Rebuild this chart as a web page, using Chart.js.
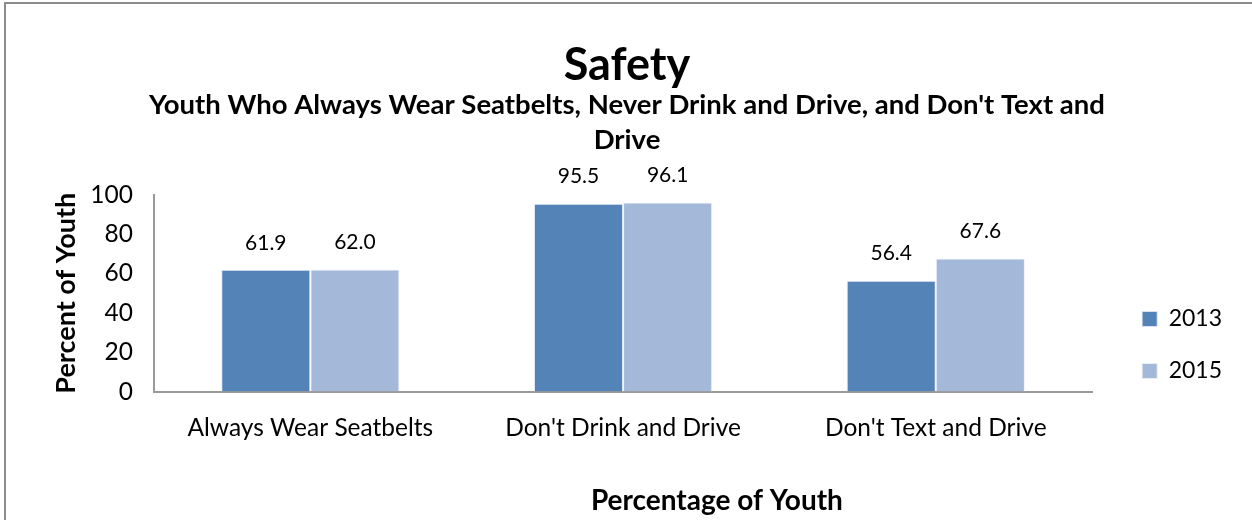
<!DOCTYPE html>
<html>
<head>
<meta charset="utf-8">
<script src="https://cdn.jsdelivr.net/npm/chart.js@4"></script>
<style>
  html, body { margin: 0; padding: 0; background: #fff; }
  #wrap { width: 1252px; height: 520px; }
</style>
</head>
<body>
<div id="wrap"><canvas id="c" width="1252" height="520"></canvas></div>
<script>
const categories = ["Always Wear Seatbelts", "Don't Drink and Drive", "Don't Text and Drive"];
const seriesNames = ["2013", "2015"];
const values2013 = [61.9, 95.5, 56.4];
const values2015 = [62.0, 96.1, 67.6];
const yTicks = [0, 20, 40, 60, 80, 100];

const FONT = "Lato, 'Open Sans', sans-serif";

const borderPlugin = {
  id: 'outerBorder',
  beforeDraw(chart) {
    const ctx = chart.ctx;
    ctx.save();
    ctx.fillStyle = '#fff';
    ctx.fillRect(0, 0, chart.width, chart.height);
    ctx.strokeStyle = '#8c8c8c';
    ctx.lineWidth = 2;
    ctx.strokeRect(5, 3, chart.width + 20, chart.height + 20);
    ctx.restore();
  }
};

const valueLabels = {
  id: 'valueLabels',
  afterDatasetsDraw(chart) {
    const ctx = chart.ctx;
    ctx.save();
    ctx.font = "21px " + FONT;
    ctx.fillStyle = '#000';
    ctx.textAlign = 'center';
    ctx.textBaseline = 'middle';
    chart.data.datasets.forEach((ds, i) => {
      chart.getDatasetMeta(i).data.forEach((bar, j) => {
        ctx.fillText(ds.data[j].toFixed(1), bar.x, bar.y - 27);
      });
    });
    ctx.restore();
  }
};

const xTitle = {
  id: 'xTitle',
  afterDraw(chart) {
    const a = chart.chartArea;
    const ctx = chart.ctx;
    ctx.save();
    ctx.font = "bold 28px " + FONT;
    ctx.fillStyle = '#000';
    ctx.textAlign = 'center';
    ctx.textBaseline = 'middle';
    ctx.fillText('Percentage of Youth', a.left + (a.right - a.left) * 0.6, a.bottom + 109);
    ctx.restore();
  }
};

new Chart(document.getElementById('c'), {
  type: 'bar',
  data: {
    labels: categories,
    datasets: [
      { label: seriesNames[0], data: values2013, backgroundColor: '#5383b7', borderColor: '#e8eef6', borderWidth: {top:1,left:1,right:1,bottom:0} },
      { label: seriesNames[1], data: values2015, backgroundColor: '#a4b8d9', borderColor: '#eef2f9', borderWidth: {top:1,left:1,right:1,bottom:0} }
    ]
  },
  options: {
    responsive: false,
    animation: false,
    devicePixelRatio: 1,
    layout: { padding: { left: 22, right: 20, top: 20, bottom: 55 } },
    datasets: { bar: { barPercentage: 1.0, categoryPercentage: 0.57 } },
    plugins: {
      title: {
        display: true,
        text: 'Safety',
        color: '#000',
        font: { family: FONT, size: 45, weight: 'bold', lineHeight: 1.0 },
        padding: { top: 22.5, bottom: 0 }
      },
      subtitle: {
        display: true,
        text: ["Youth Who Always Wear Seatbelts, Never Drink and Drive, and Don't Text and", "Drive"],
        color: '#000',
        font: { family: FONT, size: 27.5, weight: 'bold', lineHeight: 1.27 },
        padding: { top: 0, bottom: 37.5 }
      },
      legend: {
        position: 'right',
        fullSize: true,
        title: { display: true, text: ' ', font: { size: 10, lineHeight: 1.2 }, padding: { top: 193, bottom: 0 } },
        labels: {
          color: '#000',
          font: { family: FONT, size: 23 },
          boxWidth: 15,
          boxHeight: 15,
          padding: 29
        }
      },
      tooltip: { enabled: false }
    },
    scales: {
      x: {
        grid: { display: false, drawTicks: false },
        border: { display: true, color: '#9a9a9a', width: 2 },
        ticks: { color: '#000', font: { family: FONT, size: 24.5 }, padding: 22 }
      },
      y: {
        min: 0, max: 100,
        afterBuildTicks(scale) { scale.ticks = yTicks.map(v => ({ value: v })); },
        afterFit(scale) { scale.width = 132; },
        grid: { display: false, drawOnChartArea: false, drawTicks: true, tickLength: 6, color: '#9a9a9a', tickWidth: 1.5 },
        border: { display: true, color: '#9a9a9a', width: 2 },
        ticks: { color: '#000', font: { family: FONT, size: 24.5 }, padding: 15 },
        title: {
          display: true,
          text: 'Percent of Youth',
          color: '#000',
          font: { family: FONT, size: 27, weight: 'bold', lineHeight: 1.2 },
          padding: { top: 28, bottom: 6 }
        }
      },
      gap: {
        position: 'right',
        display: true,
        grid: { display: false, drawTicks: false },
        border: { display: false },
        ticks: { display: false },
        afterFit(scale) { scale.width = 21; }
      }
    }
  },
  plugins: [borderPlugin, valueLabels, xTitle]
});
</script>
</body>
</html>
